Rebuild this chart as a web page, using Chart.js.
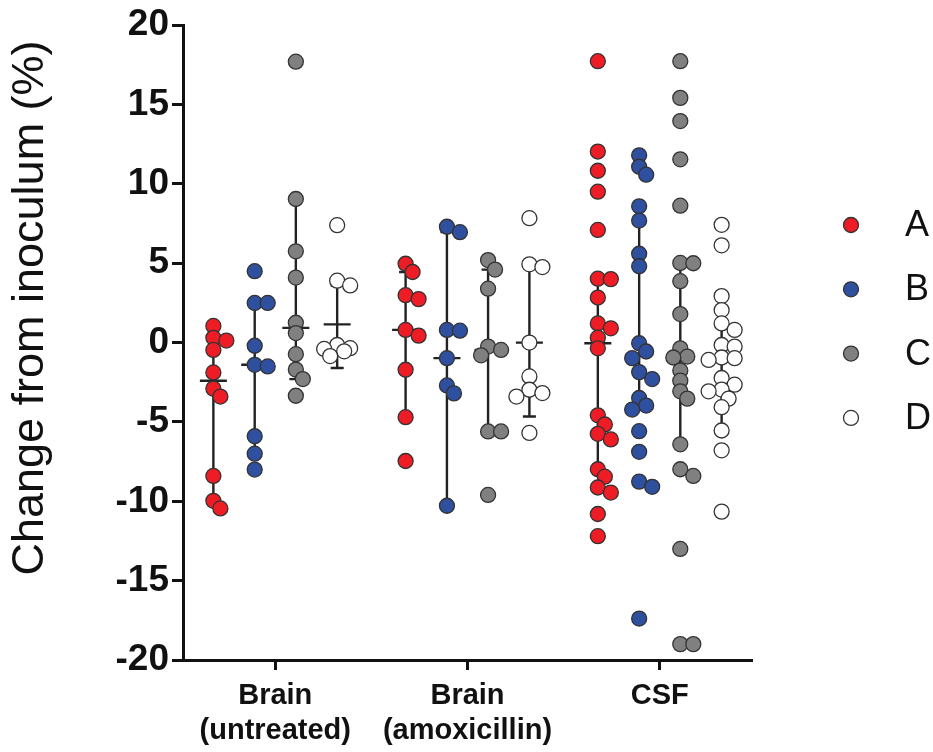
<!DOCTYPE html>
<html lang="en">
<head>
<meta charset="UTF-8">
<title>Change from inoculum</title>
<script src="https://cdn.jsdelivr.net/npm/chart.js"></script>
<style>
body{margin:0;background:#fff;}
canvas{display:block;}
</style>
</head>
<body>
<canvas id="chart" width="933" height="752"></canvas>
<script>
/* ---------- data ---------- */
const GROUP_LABELS=[["Brain","(untreated)"],["Brain","(amoxicillin)"],["CSF"]];
const SERIES=["A","B","C","D"];
const Y_TICKS=[-20,-15,-10,-5,0,5,10,15,20];

const A_untreated =[1.05,0.3,0.13,-0.46,-1.88,-2.9,-3.4,-8.4,-9.97,-10.45];
const A_amoxicillin=[4.97,4.45,2.99,2.74,0.8,0.44,-1.71,-4.7,-7.46];
const A_csf=[17.73,12.04,10.83,9.51,7.1,4.03,4.0,2.84,1.21,0.9,0.31,-0.36,-4.58,-5.16,-5.75,-6.1,-7.98,-8.45,-9.13,-9.45,-10.8,-12.2];

const B_untreated =[4.5,2.5,2.5,-0.2,-1.4,-1.5,-5.9,-7.0,-8.0];
const B_amoxicillin=[7.3,6.96,0.8,0.75,-0.98,-2.7,-3.2,-10.28];
const B_csf=[11.8,11.08,10.58,8.59,7.69,5.6,4.81,-0.04,-0.56,-0.98,-1.86,-2.3,-3.49,-3.97,-4.22,-5.58,-6.88,-8.76,-9.09,-17.39];

const C_untreated =[17.7,9.05,5.75,4.1,1.25,0.6,-0.73,-1.7,-2.3,-3.35];
const C_amoxicillin=[5.2,4.6,3.4,-0.25,-0.46,-0.8,-5.6,-5.6,-9.6];
const C_csf=[17.73,15.42,13.96,11.55,8.63,5.02,5.0,3.87,1.8,-0.36,-0.88,-0.94,-1.76,-2.4,-3.07,-3.53,-6.41,-7.98,-8.4,-13.0,-19.0,-19.0];

const D_untreated =[7.4,3.9,3.6,-0.15,-0.35,-0.4,-0.55,-0.85];
const D_amoxicillin=[7.84,4.93,4.76,0.0,-2.13,-2.97,-3.18,-3.4,-5.69];
const D_csf=[7.42,6.13,2.93,2.05,1.21,0.8,-0.15,-0.25,-0.94,-0.98,-1.09,-2.23,-2.65,-2.96,-3.07,-3.53,-4.07,-5.54,-6.79,-10.65];

// median and whisker ends, per group (untreated, amoxicillin, csf)
const A_median=[-2.4,0.8,-0.04],  A_low=[-9.97,-4.7,-7.98],  A_high=[0.3,4.45,4.0];
const B_median=[-1.4,-0.98,-0.75],B_low=[-6.9,-10.28,-4.22], B_high=[2.5,6.96,7.69];
const C_median=[0.93,-0.46,-0.9], C_low=[-2.3,-5.6,-6.41],   C_high=[9.05,4.6,5.0];
const D_median=[1.15,0.0,-1.2],   D_low=[-1.6,-4.66,-5.54],  D_high=[3.6,4.8,2.0];

/* ---------- look ---------- */
const COLORS={A:"#ee1d25",B:"#2f4f9f",C:"#808080",D:"#ffffff"};
const SERIES_OFFSET=[-0.322,-0.107,0.107,0.322];   // x offset of each series inside a group
const FONT='Arial,"Liberation Sans",Helvetica,sans-serif';

const PX_X=192.2, PX_Y=15.95;   // px per unit on each axis (used for the swarm only)

/* simple beeswarm: nudge overlapping dots sideways */
function swarm(values){
    const placed=[],out=[];
    const cands=[0,7,-7,13,-13];
    values.forEach(v=>{
        const py=v*PX_Y;
        const minDist=c=>placed.reduce((m,p)=>Math.min(m,Math.hypot(p.x-c,p.y-py)),Infinity);
        let pick=cands.find(c=>minDist(c)>=10);
        if(pick===undefined){
            pick=cands.slice(0,3).reduce((b,c)=>minDist(c)>minDist(b)?c:b,cands[0]);
        }
        placed.push({x:pick,y:py});
        out.push(pick/PX_X);
    });
    return out;
}

const RAW={
    A:[A_untreated,A_amoxicillin,A_csf],
    B:[B_untreated,B_amoxicillin,B_csf],
    C:[C_untreated,C_amoxicillin,C_csf],
    D:[D_untreated,D_amoxicillin,D_csf]
};
const SUMMARY={
    A:{med:A_median,lo:A_low,hi:A_high},
    B:{med:B_median,lo:B_low,hi:B_high},
    C:{med:C_median,lo:C_low,hi:C_high},
    D:{med:D_median,lo:D_low,hi:D_high}
};

const datasets=SERIES.map((s,si)=>{
    const pts=[];
    RAW[s].forEach((vals,gi)=>{
        const jit=swarm(vals);
        vals.forEach((v,k)=>pts.push({x:gi+1+SERIES_OFFSET[si]+jit[k],y:v}));
    });
    return {
        label:s,data:pts,
        backgroundColor:COLORS[s],borderColor:"#333",borderWidth:1.3,
        pointRadius:7.5,pointHoverRadius:7.5
    };
});

/* median + whisker lines, drawn under the dots */
const summaryPlugin={
    id:"summary",
    beforeDatasetsDraw(chart){
        const {ctx,scales:{x,y}}=chart;
        ctx.save();
        ctx.strokeStyle="#222";ctx.lineWidth=2.4;ctx.lineCap="butt";
        SERIES.forEach((s,si)=>{
            const sm=SUMMARY[s];
            [0,1,2].forEach(gi=>{
                const px=x.getPixelForValue(gi+1+SERIES_OFFSET[si]);
                const yl=y.getPixelForValue(sm.lo[gi]),yh=y.getPixelForValue(sm.hi[gi]);
                const ym=y.getPixelForValue(sm.med[gi]);
                ctx.beginPath();
                ctx.moveTo(px,yl);ctx.lineTo(px,yh);
                ctx.moveTo(px-6.5,yl);ctx.lineTo(px+6.5,yl);
                ctx.moveTo(px-6.5,yh);ctx.lineTo(px+6.5,yh);
                ctx.moveTo(px-13.5,ym);ctx.lineTo(px+13.5,ym);
                ctx.stroke();
            });
        });
        ctx.restore();
    }
};

/* legend on the right + rotated y title */
const decorPlugin={
    id:"decor",
    afterDraw(chart){
        const {ctx,chartArea}=chart;
        ctx.save();
        chart.data.datasets.forEach((ds,i)=>{
            const cy=225+i*64.3;
            ctx.beginPath();
            ctx.arc(chartArea.right+99,cy,7.5,0,Math.PI*2);
            ctx.fillStyle=ds.backgroundColor;ctx.fill();
            ctx.lineWidth=1.3;ctx.strokeStyle="#333";ctx.stroke();
            ctx.fillStyle="#111";
            ctx.font="36px "+FONT;
            ctx.textAlign="left";ctx.textBaseline="middle";
            ctx.fillText(ds.label,chartArea.right+153,cy+1);
        });
        ctx.translate(31,308);
        ctx.rotate(-Math.PI/2);
        ctx.font="45px "+FONT;
        ctx.textAlign="center";ctx.textBaseline="middle";
        ctx.fillStyle="#111";
        ctx.fillText("Change from inoculum (%)",0,0);
        ctx.restore();
    }
};

new Chart(document.getElementById("chart"),{
    type:"scatter",
    data:{datasets},
    options:{
        responsive:false,animation:false,
        layout:{padding:{top:22,right:181,left:0,bottom:0}},
        plugins:{legend:{display:false},tooltip:{enabled:false}},
        scales:{
            x:{
                type:"linear",min:0.52,max:3.48,
                afterBuildTicks:sc=>{sc.ticks=GROUP_LABELS.map((l,i)=>({value:i+1}));},
                afterFit:sc=>{sc.height=92;},
                grid:{drawOnChartArea:false,tickLength:10,tickWidth:3,tickColor:"#111"},
                border:{width:3,color:"#111"},
                ticks:{
                    color:"#111",padding:9,maxRotation:0,autoSkip:false,
                    font:{family:FONT,size:29,weight:"bold",lineHeight:1.2},
                    callback:v=>GROUP_LABELS[Math.round(v)-1]
                }
            },
            y:{
                min:-20,max:20,
                afterBuildTicks:sc=>{sc.ticks=Y_TICKS.map(v=>({value:v}));},
                afterFit:sc=>{sc.width=183;},
                grid:{drawOnChartArea:false,tickLength:11,tickWidth:3,tickColor:"#111"},
                border:{width:3,color:"#111"},
                ticks:{
                    color:"#111",padding:3,
                    font:{family:FONT,size:37,weight:"bold"},
                    callback:v=>String(v)
                }
            }
        }
    },
    plugins:[summaryPlugin,decorPlugin]
});
</script>
</body>
</html>
